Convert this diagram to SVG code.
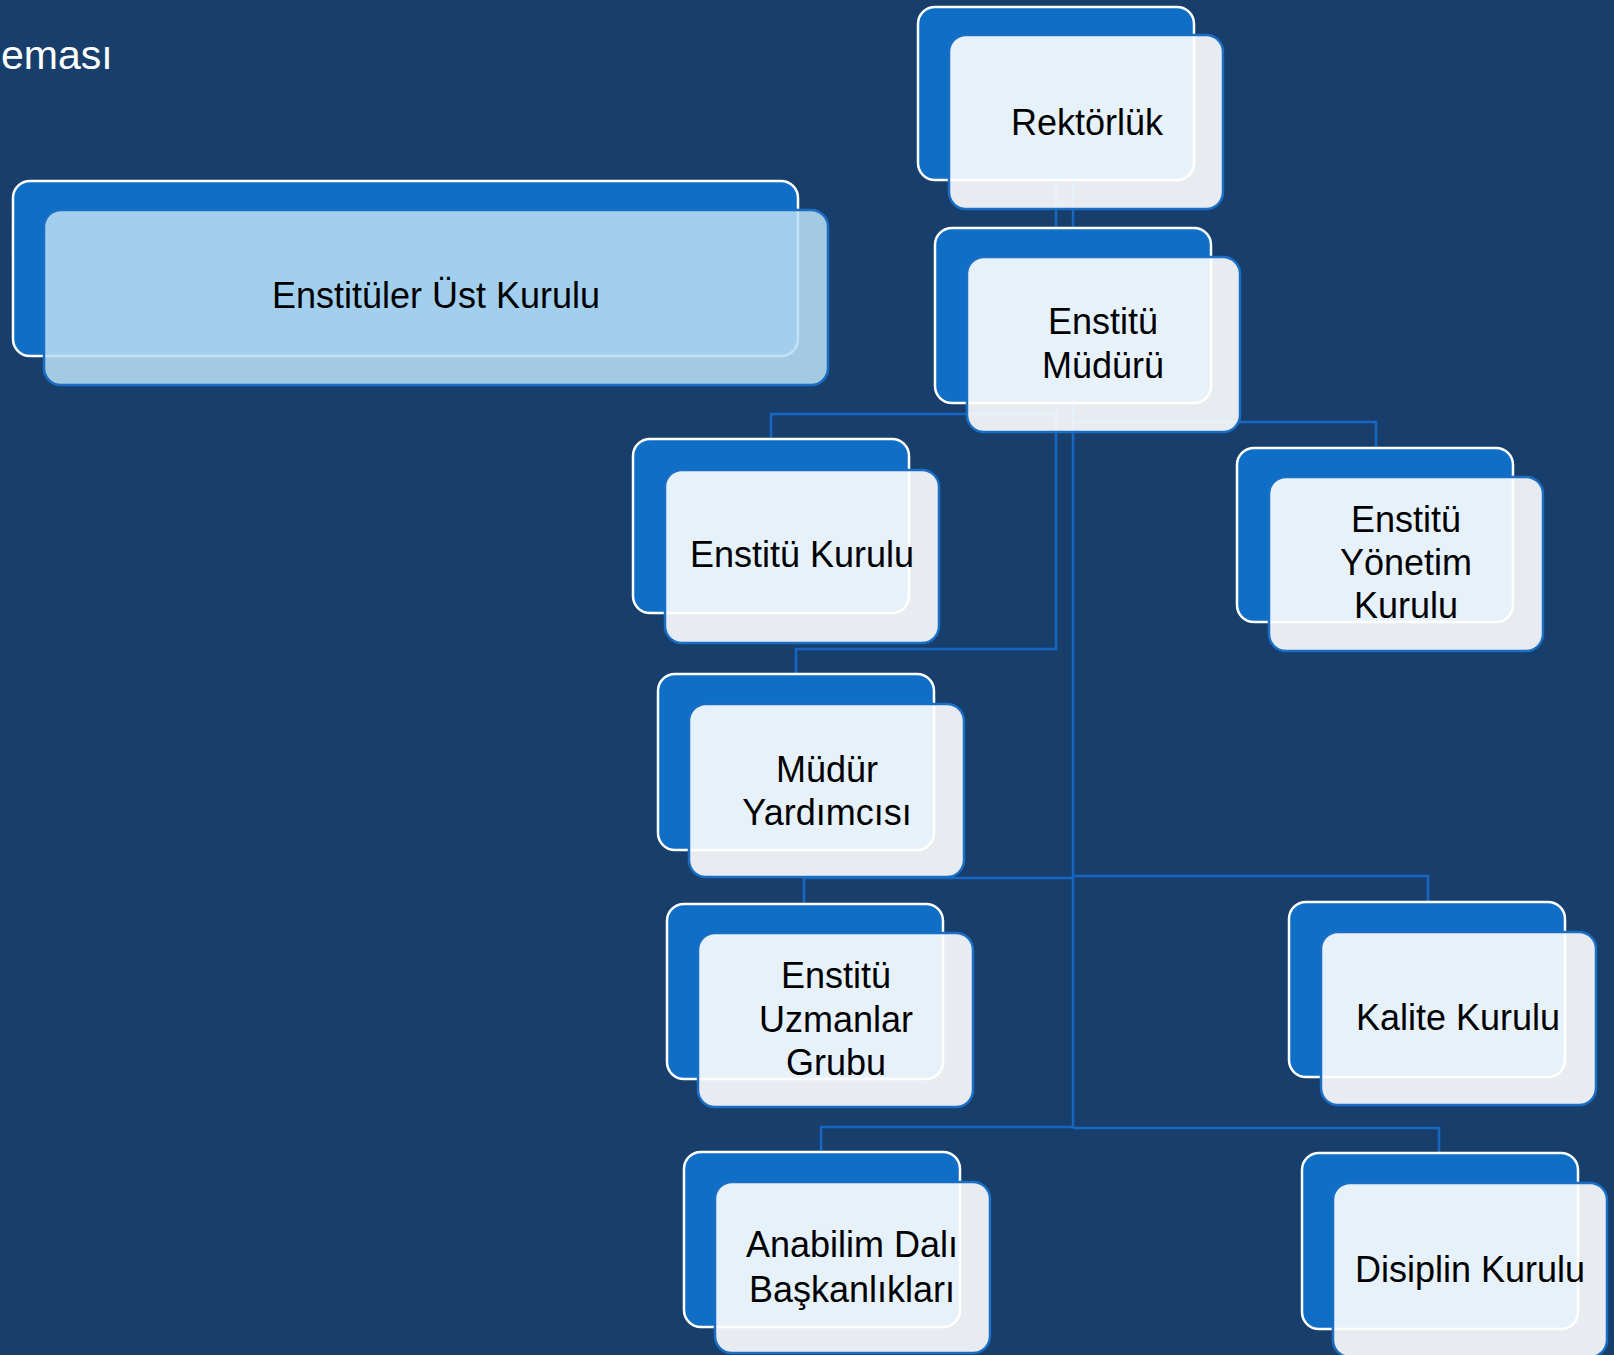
<svg xmlns="http://www.w3.org/2000/svg" width="1614" height="1355" viewBox="0 0 1614 1355">
<style>
.bg{fill:#183F6B}
.back{fill:#0F6FC6;stroke:#FFFFFF;stroke-width:2.5}
.front{fill:#FFFFFF;fill-opacity:0.9;stroke:#1A6EC4;stroke-width:2.5}
.frontb{fill:#B9DEF4;fill-opacity:0.87;stroke:#1A6EC4;stroke-width:2.5}
.lbl{font-family:"Liberation Sans",Arial,sans-serif;font-size:36px;fill:#000000;text-anchor:middle}
.ttl{font-family:"Liberation Sans",Arial,sans-serif;font-size:41px;fill:#FFFFFF;text-anchor:start}
.con{fill:none;stroke:#1666C2;stroke-width:2.5}
</style>
<rect class="bg" x="0" y="0" width="1614" height="1355"/>
<text class="ttl" x="1" y="69">eması</text>
<g id="connectors">
<path class="con" d="M1056 180 V228"/>
<path class="con" d="M1073 180 V228"/>
<path class="con" d="M1056 203 H1073"/>
<path class="con" d="M771 439 V414 H1056"/>
<path class="con" d="M1073 422 H1376 V448"/>
<path class="con" d="M1056 403 V649 H796 V674"/>
<path class="con" d="M1073 403 V1128"/>
<path class="con" d="M804 904 V878 H1073"/>
<path class="con" d="M1073 876 H1428 V902"/>
<path class="con" d="M821 1152 V1127 H1073"/>
<path class="con" d="M1073 1128 H1439 V1153"/>
</g>
<g id="ust-kurulu">
<rect class="back" x="13" y="181" width="785" height="175" rx="17"/>
<rect class="frontb" x="44" y="210" width="784" height="175" rx="17"/>
<text class="lbl" x="436" y="308">Enstitüler Üst Kurulu</text>
</g>
<g id="rektorluk">
<rect class="back" x="918" y="7" width="276" height="173" rx="17"/>
<rect class="front" x="949" y="35" width="274" height="174" rx="17"/>
<text class="lbl" x="1087" y="135">Rektörlük</text>
</g>
<g id="enstitu-muduru">
<rect class="back" x="935" y="228" width="276" height="175" rx="17"/>
<rect class="front" x="967" y="257" width="273" height="175" rx="17"/>
<text class="lbl" x="1103" y="334">Enstitü</text>
<text class="lbl" x="1103" y="378">Müdürü</text>
</g>
<g id="enstitu-kurulu">
<rect class="back" x="633" y="439" width="276" height="174" rx="17"/>
<rect class="front" x="665" y="470" width="274" height="173" rx="17"/>
<text class="lbl" x="802" y="567">Enstitü Kurulu</text>
</g>
<g id="yonetim-kurulu">
<rect class="back" x="1237" y="448" width="276" height="174" rx="17"/>
<rect class="front" x="1269" y="477" width="274" height="174" rx="17"/>
<text class="lbl" x="1406" y="532">Enstitü</text>
<text class="lbl" x="1406" y="575">Yönetim</text>
<text class="lbl" x="1406" y="618">Kurulu</text>
</g>
<g id="mudur-yardimcisi">
<rect class="back" x="658" y="674" width="276" height="176" rx="17"/>
<rect class="front" x="689" y="704" width="275" height="173" rx="17"/>
<text class="lbl" x="827" y="782">Müdür</text>
<text class="lbl" x="827" y="825">Yardımcısı</text>
</g>
<g id="uzmanlar-grubu">
<rect class="back" x="667" y="904" width="276" height="175" rx="17"/>
<rect class="front" x="698" y="933" width="275" height="174" rx="17"/>
<text class="lbl" x="836" y="988">Enstitü</text>
<text class="lbl" x="836" y="1032">Uzmanlar</text>
<text class="lbl" x="836" y="1075">Grubu</text>
</g>
<g id="kalite-kurulu">
<rect class="back" x="1289" y="902" width="276" height="175" rx="17"/>
<rect class="front" x="1321" y="932" width="275" height="173" rx="17"/>
<text class="lbl" x="1458" y="1030">Kalite Kurulu</text>
</g>
<g id="anabilim">
<rect class="back" x="684" y="1152" width="276" height="175" rx="17"/>
<rect class="front" x="715" y="1182" width="275" height="171" rx="17"/>
<text class="lbl" x="852" y="1257">Anabilim Dalı</text>
<text class="lbl" x="852" y="1302">Başkanlıkları</text>
</g>
<g id="disiplin-kurulu">
<rect class="back" x="1302" y="1153" width="276" height="176" rx="17"/>
<rect class="front" x="1333" y="1183" width="274" height="174" rx="17"/>
<text class="lbl" x="1470" y="1282">Disiplin Kurulu</text>
</g>
</svg>
